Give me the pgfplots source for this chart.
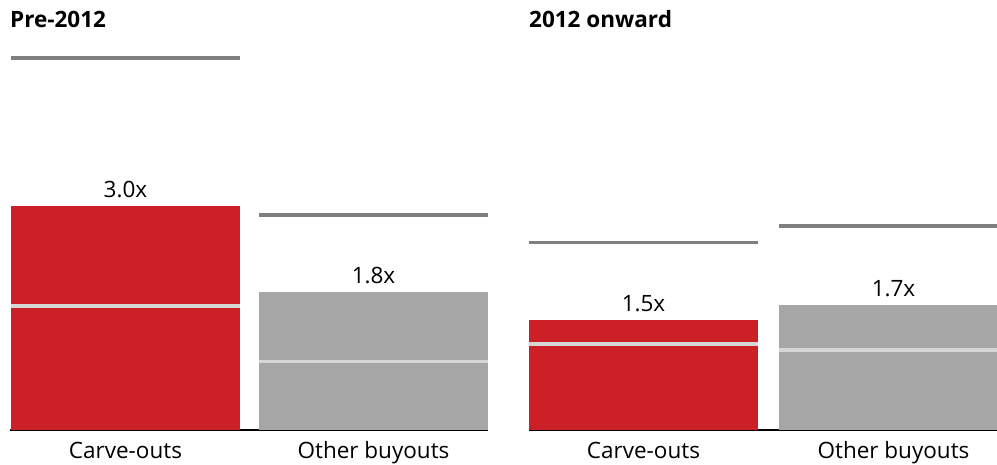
\documentclass[border=0pt]{standalone}
\usepackage{pgfplots}
\pgfplotsset{compat=1.18}
\usepackage{fontspec}
\setmainfont{Open Sans}
\definecolor{cred}{HTML}{CC2027}
\definecolor{cgray}{HTML}{A5A6A5}
\definecolor{cdark}{HTML}{7F7F7F}
\definecolor{clight}{HTML}{D6D6D6}
\newcommand{\lblfont}{\fontsize{22.5}{27}\selectfont}
\pgfplotsset{
  panel/.style={
    scale only axis, height=409.75pt, ymin=0, ymax=5.5,
    axis y line=none, axis x line*=bottom,
    x axis line style={-, line width=1.3pt, black},
    xtick={115.5,363.5}, xticklabels={Carve-outs,Other buyouts},
    major tick length=0pt,
    xticklabel style={font=\lblfont, anchor=base, yshift=-28pt, inner sep=0pt},
    anchor=south west,
  },
  bar/.style={ybar, bar width=229, bar shift=0pt, draw=none, fill=#1,
    nodes near coords, point meta=explicit symbolic,
    nodes near coords style={font=\lblfont, anchor=base, yshift=8pt, inner sep=0pt}},
  hi/.style={draw=cdark, line width=3.5pt, no marks},
  med/.style={draw=clight, line width=3.5pt, no marks},
}
\begin{document}
\begin{tikzpicture}
\path[use as bounding box] (0,0) rectangle (997pt,464pt);
\node[anchor=base west, font=\bfseries\lblfont, inner sep=0pt] at (10pt,436pt) {Pre-2012};
\node[anchor=base west, font=\bfseries\lblfont, inner sep=0pt] at (529pt,436pt) {2012 onward};
\begin{axis}[panel, at={(10pt,34pt)}, width=478pt, xmin=0, xmax=478]
  \addplot[bar=cred] coordinates {(115.5,3.007) [3.0x]};
  \addplot[bar=cgray] coordinates {(363.5,1.856) [1.8x]};
  \addplot[med] coordinates {(1,1.664) (230,1.664)};
  \addplot[med] coordinates {(249,0.917) (478,0.917)};
  \addplot[hi] coordinates {(1,4.993) (230,4.993)};
  \addplot[hi] coordinates {(249,2.886) (478,2.886)};
\end{axis}
\begin{axis}[panel, at={(529pt,34pt)}, width=468pt, xmin=0, xmax=468,
  xtick={114.5,364.5}]
  \addplot[bar=cred] coordinates {(114.5,1.477) [1.5x]};
  \addplot[bar=cgray] coordinates {(364.5,1.678) [1.7x]};
  \addplot[med] coordinates {(0,1.154) (229,1.154)};
  \addplot[med] coordinates {(250,1.074) (479,1.074)};
  \addplot[hi] coordinates {(0,2.514) (229,2.514)};
  \addplot[hi] coordinates {(250,2.738) (479,2.738)};
\end{axis}
\end{tikzpicture}
\end{document}
